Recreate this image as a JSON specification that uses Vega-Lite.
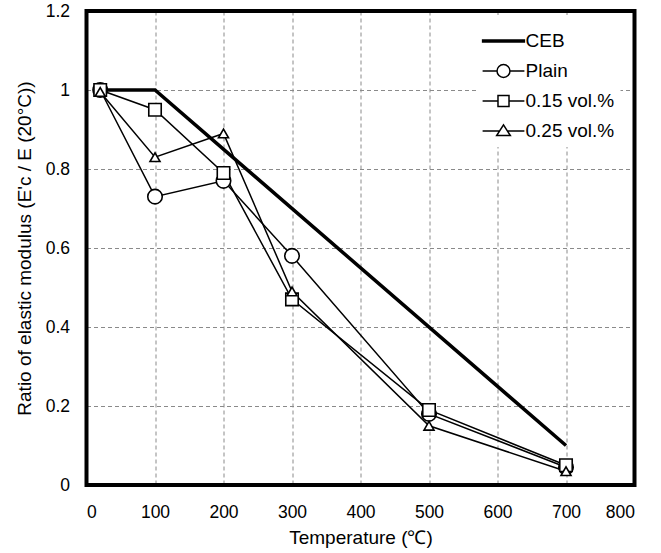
{
  "$schema": "https://vega.github.io/schema/vega-lite/v6.json",
  "autosize": "none",
  "width": 548,
  "height": 474,
  "padding": {"left": 86.5, "top": 11, "right": 26.5, "bottom": 68},
  "background": "white",
  "config": {
    "view": {"stroke": null},
    "axis": {
      "labelFont": "Liberation Sans",
      "labelFontSize": 17.5,
      "labelColor": "black",
      "titleFont": "Liberation Sans",
      "titleFontSize": 19,
      "titleFontWeight": "normal",
      "titleColor": "black",
      "domain": false,
      "ticks": false,
      "tickSize": 0,
      "gridColor": "#8a8a8a",
      "gridDash": [4, 3],
      "gridWidth": 1
    }
  },
  "data": {
    "values": [
      {"series": "CEB", "T": 20, "ratio": 1},
      {"series": "CEB", "T": 100, "ratio": 1},
      {"series": "CEB", "T": 700, "ratio": 0.1},
      {"series": "Plain", "T": 20, "ratio": 1},
      {"series": "Plain", "T": 100, "ratio": 0.73},
      {"series": "Plain", "T": 200, "ratio": 0.77},
      {"series": "Plain", "T": 300, "ratio": 0.58},
      {"series": "Plain", "T": 500, "ratio": 0.18},
      {"series": "Plain", "T": 700, "ratio": 0.045},
      {"series": "0.15 vol.%", "T": 20, "ratio": 1},
      {"series": "0.15 vol.%", "T": 100, "ratio": 0.95},
      {"series": "0.15 vol.%", "T": 200, "ratio": 0.79},
      {"series": "0.15 vol.%", "T": 300, "ratio": 0.47},
      {"series": "0.15 vol.%", "T": 500, "ratio": 0.19},
      {"series": "0.15 vol.%", "T": 700, "ratio": 0.05},
      {"series": "0.25 vol.%", "T": 20, "ratio": 0.995},
      {"series": "0.25 vol.%", "T": 100, "ratio": 0.83},
      {"series": "0.25 vol.%", "T": 200, "ratio": 0.89},
      {"series": "0.25 vol.%", "T": 300, "ratio": 0.49},
      {"series": "0.25 vol.%", "T": 500, "ratio": 0.15},
      {"series": "0.25 vol.%", "T": 700, "ratio": 0.035}
    ]
  },
  "layer": [
    {
      "transform": [{"filter": "datum.series == 'CEB'"}],
      "mark": {"type": "line", "strokeWidth": 3.5, "strokeCap": "butt"},
      "encoding": {
        "x": {
          "field": "T", "type": "quantitative",
          "scale": {"domain": [0, 800], "nice": false},
          "axis": {
            "title": "Temperature (℃)",
            "values": [0, 100, 200, 300, 400, 500, 600, 700, 800],
            "labelPadding": 18,
            "titlePadding": 8,
            "gridOpacity": {"condition": {"test": "datum.value == 0 || datum.value == 800", "value": 0}, "value": 1}
          }
        },
        "y": {
          "field": "ratio", "type": "quantitative",
          "scale": {"domain": [0, 1.2], "nice": false},
          "axis": {
            "title": "Ratio of  elastic modulus (E'c / E (20°C))",
            "values": [0, 0.2, 0.4, 0.6, 0.8, 1, 1.2],
            "format": "~g",
            "labelPadding": 17,
            "titlePadding": 11,
            "gridOpacity": {"condition": {"test": "datum.value == 0 || datum.value == 1.2", "value": 0}, "value": 1}
          }
        },
        "color": {
          "field": "series", "type": "nominal",
          "scale": {"domain": ["CEB", "Plain", "0.15 vol.%", "0.25 vol.%"], "range": ["black", "black", "black", "black"]},
          "legend": {
            "title": null,
            "orient": "none",
            "legendX": 391,
            "legendY": 4,
            "padding": 6,
            "fillColor": "white",
            "symbolSize": 1444,
            "symbolStrokeWidth": 1.5,
            "rowPadding": 0,
            "labelOffset": 2,
            "labelFont": "Liberation Sans",
            "labelFontSize": 19,
            "labelColor": "black",
            "encode": {
              "symbols": {
                "update": {
                  "shape": {"signal": "datum.value == 'CEB' ? 'M-1.1,-0.05H1.1V0.05H-1.1Z' : datum.value == 'Plain' ? 'M-1.1,0H-0.34M0.34,0H1.1M-0.34,0A0.34,0.34,0,1,0,0.34,0A0.34,0.34,0,1,0,-0.34,0Z' : datum.value == '0.15 vol.%' ? 'M-1.1,0H-0.29M0.29,0H1.1M-0.29,-0.29H0.29V0.29H-0.29Z' : 'M-1.1,0H-0.21M0.21,0H1.1M0,-0.32L0.36,0.24H-0.36Z'"},
                  "size": {"value": 1444},
                  "strokeWidth": {"value": 1.5},
                  "stroke": {"value": "black"},
                  "fill": {"signal": "datum.value == 'CEB' ? 'black' : 'white'"},
                  "opacity": {"value": 1}
                }
              }
            }
          }
        }
      }
    },
    {
      "transform": [{"filter": "datum.series != 'CEB'"}],
      "mark": {"type": "line", "strokeWidth": 1.5},
      "encoding": {
        "x": {"field": "T", "type": "quantitative"},
        "y": {"field": "ratio", "type": "quantitative"},
        "color": {"field": "series", "type": "nominal"}
      }
    },
    {
      "transform": [{"filter": "datum.series != 'CEB'"}],
      "mark": {"type": "point", "filled": true, "fill": "white", "stroke": "black", "strokeWidth": 1.6, "opacity": 1},
      "encoding": {
        "x": {"field": "T", "type": "quantitative"},
        "y": {"field": "ratio", "type": "quantitative"},
        "shape": {
          "field": "series", "type": "nominal",
          "scale": {"domain": ["Plain", "0.15 vol.%", "0.25 vol.%"], "range": ["circle", "square", "triangle-up"]},
          "legend": null
        },
        "size": {
          "field": "series", "type": "nominal",
          "scale": {"domain": ["Plain", "0.15 vol.%", "0.25 vol.%"], "range": [210, 100, 169]},
          "legend": null
        }
      }
    },
    {
      "data": {"values": [{}]},
      "mark": {"type": "rect", "filled": false, "stroke": "black", "strokeWidth": 4},
      "encoding": {
        "x": {"datum": 0, "type": "quantitative"},
        "x2": {"datum": 800},
        "y": {"datum": 0, "type": "quantitative"},
        "y2": {"datum": 1.2}
      }
    }
  ]
}
